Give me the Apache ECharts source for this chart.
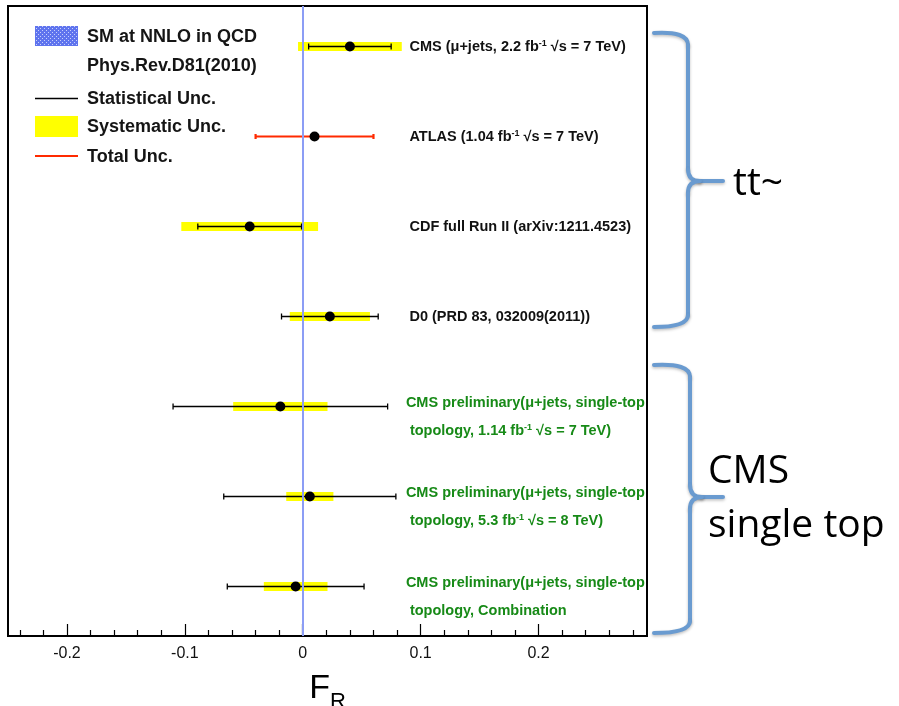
<!DOCTYPE html>
<html><head><meta charset="utf-8">
<script src="https://cdn.jsdelivr.net/npm/echarts@6/dist/echarts.min.js"></script>
<style>html,body{margin:0;padding:0;background:#fff}#c{width:899px;height:706px}</style>
</head><body><div id="c"></div>
<script>
// ---- data ----
const measurements = ['CMS', 'ATLAS', 'CDF', 'D0', 'CMS prelim 7 TeV', 'CMS prelim 8 TeV', 'CMS prelim comb.'];
const groups = ['tt', 'tt', 'tt', 'tt', 'single', 'single', 'single'];
const labelLines = [
  ['CMS (\u03bc+jets, 2.2 fb{sup|-1} \u221As = 7 TeV)'],
  ['ATLAS (1.04 fb{sup|-1} \u221As = 7 TeV)'],
  ['CDF full Run II (arXiv:1211.4523)'],
  ['D0 (PRD 83, 032009(2011))'],
  ['CMS preliminary(\u03bc+jets, single-top', ' topology, 1.14 fb{sup|-1} \u221As = 7 TeV)'],
  ['CMS preliminary(\u03bc+jets, single-top', ' topology, 5.3 fb{sup|-1} \u221As = 8 TeV)'],
  ['CMS preliminary(\u03bc+jets, single-top', ' topology, Combination']
];
const centralValues = [0.040, 0.010, -0.045, 0.023, -0.019, 0.006, -0.006];
const statUnc  = [0.035, null, 0.044, 0.041, 0.091, 0.073, 0.058];
const systUnc  = [0.044, null, 0.058, 0.034, 0.040, 0.020, 0.027];
const totalUnc = [null, 0.050, null, null, null, null, null];
const smPrediction = 0;
const majorTicks = [-0.2, -0.1, 0, 0.1, 0.2];
const minorTicks = [-0.24, -0.22, -0.18, -0.16, -0.14, -0.12, -0.08, -0.06, -0.04, -0.02,
                    0.02, 0.04, 0.06, 0.08, 0.12, 0.14, 0.16, 0.18, 0.22, 0.24, 0.26, 0.28];
const legendTexts = ['SM at NNLO in QCD', 'Phys.Rev.D81(2010)', 'Statistical Unc.', 'Systematic Unc.', 'Total Unc.'];
const groupNames = ['tt~', 'CMS', 'single top'];

// ---- chart ----
const chart = echarts.init(document.getElementById('c'), null, {renderer: 'canvas'});
const FONT = '"Liberation Sans", Arial, Helvetica, sans-serif';
const GREEN = '#178a17';
const BRACKET = '#6a9bd0';

// dotted blue pattern for the SM legend swatch
const pat = document.createElement('canvas');
pat.width = 4; pat.height = 4;
(function () {
  const g = pat.getContext('2d');
  g.fillStyle = '#5f74ee'; g.fillRect(0, 0, 4, 4);
  g.fillStyle = '#c9d1fb'; g.fillRect(0, 0, 1, 1); g.fillRect(2, 2, 1, 1);
})();

const seriesData = centralValues.map((v, i) => [v, i]);

function renderItem(params, api) {
  const i = params.dataIndex;
  const c = api.value(0), yv = api.value(1);
  const p = api.coord([c, yv]);
  const ch = [];
  if (systUnc[i] != null) {
    const a = api.coord([c - systUnc[i], yv]), b = api.coord([c + systUnc[i], yv]);
    ch.push({type: 'rect', shape: {x: a[0], y: p[1] - 4.5, width: b[0] - a[0], height: 9}, style: {fill: '#ffff00'}});
  }
  if (statUnc[i] != null) {
    const a = api.coord([c - statUnc[i], yv]), b = api.coord([c + statUnc[i], yv]);
    const st = {stroke: '#000', lineWidth: 1.3};
    ch.push({type: 'line', shape: {x1: a[0], y1: p[1], x2: b[0], y2: p[1]}, style: st});
    ch.push({type: 'line', shape: {x1: a[0], y1: p[1] - 3, x2: a[0], y2: p[1] + 3}, style: st});
    ch.push({type: 'line', shape: {x1: b[0], y1: p[1] - 3, x2: b[0], y2: p[1] + 3}, style: st});
  }
  if (totalUnc[i] != null) {
    const a = api.coord([c - totalUnc[i], yv]), b = api.coord([c + totalUnc[i], yv]);
    const st = {stroke: '#ff2a00', lineWidth: 2.2};
    ch.push({type: 'line', shape: {x1: a[0], y1: p[1], x2: b[0], y2: p[1]}, style: st});
    ch.push({type: 'line', shape: {x1: a[0], y1: p[1] - 2.5, x2: a[0], y2: p[1] + 2.5}, style: st});
    ch.push({type: 'line', shape: {x1: b[0], y1: p[1] - 2.5, x2: b[0], y2: p[1] + 2.5}, style: st});
  }
  ch.push({type: 'circle', shape: {cx: p[0], cy: p[1], r: 5}, style: {fill: '#000'}});
  const single = groups[i] === 'single';
  const color = single ? GREEN : '#111';
  const lx = api.coord([single ? 0.0875 : 0.0905, yv])[0];
  const lines = labelLines[i];
  lines.forEach((t, k) => {
    const dy = lines.length === 1 ? 0 : (k === 0 ? -4 : 24);
    ch.push({
      type: 'text', x: lx, y: p[1] + dy,
      style: {
        text: t, fill: color, fontSize: 14.5, fontWeight: 'bold', fontFamily: FONT,
        align: 'left', verticalAlign: 'middle',
        rich: {sup: {fontSize: 9, fontWeight: 'bold', fontFamily: FONT, fill: color, verticalAlign: 'top'}}
      }
    });
  });
  return {type: 'group', children: ch};
}

const legendGraphics = [
  {type: 'rect', shape: {x: 35, y: 26, width: 43, height: 20}, style: {fill: {image: pat, repeat: 'repeat'}}},
  {type: 'line', shape: {x1: 35, y1: 98.5, x2: 78, y2: 98.5}, style: {stroke: '#000', lineWidth: 1.3}},
  {type: 'rect', shape: {x: 35, y: 116, width: 43, height: 21}, style: {fill: '#ffff00'}},
  {type: 'line', shape: {x1: 35, y1: 156, x2: 78, y2: 156}, style: {stroke: '#ff2a00', lineWidth: 2.2}}
];
const legendY = [37, 66, 99, 127, 157];
legendTexts.forEach((t, k) => {
  legendGraphics.push({type: 'text', x: 87, y: legendY[k],
    style: {text: t, fontSize: 18, fontWeight: 'bold', fontFamily: FONT, fill: '#151515', verticalAlign: 'middle'}});
});

const bracketStyle = {stroke: BRACKET, lineWidth: 4, fill: null, lineCap: 'round',
  shadowBlur: 3, shadowColor: 'rgba(0,0,0,0.25)', shadowOffsetY: 1.5};
// brace made of straight pieces and quadratic curves
function brace(xl, xv, xt, yTop, yTip, yBot) {
  const r = 12;
  const curve = (x1, y1, cx, cy, x2, y2) => ({type: 'bezierCurve', shape: {x1, y1, cpx1: cx, cpy1: cy, x2, y2}, style: bracketStyle});
  const seg = (x1, y1, x2, y2) => ({type: 'line', shape: {x1, y1, x2, y2}, style: bracketStyle});
  return [
    curve(xl, yTop, xv, yTop - 2, xv, yTop + r),
    seg(xv, yTop + r, xv, yTip - r),
    curve(xv, yTip - r, xv, yTip, xv + r, yTip),
    seg(xv + r, yTip, xt, yTip),
    curve(xv + r, yTip, xv, yTip, xv, yTip + r),
    seg(xv, yTip + r, xv, yBot - r),
    curve(xv, yBot - r, xv, yBot, xl, yBot)
  ];
}
const bracketGraphics = [].concat(
  brace(654, 688, 723, 33, 181, 327),
  brace(654, 690, 723, 365, 497, 633),
  [
    {type: 'text', x: 733, y: 184, style: {text: groupNames[0], fontSize: 39, fontFamily: '"Open Sans", sans-serif', fill: '#000', verticalAlign: 'middle'}},
    {type: 'text', x: 708, y: 472, style: {text: groupNames[1], fontSize: 39, fontFamily: '"Open Sans", sans-serif', fill: '#000', verticalAlign: 'middle'}},
    {type: 'text', x: 708, y: 526, style: {text: groupNames[2], fontSize: 39, fontFamily: '"Open Sans", sans-serif', fill: '#000', verticalAlign: 'middle'}}
  ]
);

const option = {
  animation: false,
  backgroundColor: '#fff',
  grid: {left: 8, right: 252, top: 6, bottom: 70, containLabel: false, outerBoundsMode: 'none',
    show: true, borderColor: '#000', borderWidth: 2, backgroundColor: 'transparent'},
  xAxis: [{
    type: 'value', min: -0.25, max: 0.292, position: 'bottom',
    axisLine: {show: true, onZero: false, lineStyle: {color: '#000', width: 2}},
    axisTick: {show: true, inside: true, length: 12, customValues: majorTicks, lineStyle: {color: '#000', width: 1.2}},
    axisLabel: {show: true, customValues: majorTicks, color: '#111', fontSize: 16, fontFamily: FONT, margin: 10},
    splitLine: {show: false},
    name: '{f|F}{r|R}', nameLocation: 'middle', nameGap: 29,
    nameTextStyle: {rich: {
      f: {fontSize: 34, fontFamily: FONT, color: '#000', lineHeight: 48},
      r: {fontSize: 22, fontFamily: FONT, color: '#000', lineHeight: 48, verticalAlign: 'bottom'}
    }}
  }, {
    type: 'value', min: -0.25, max: 0.292, position: 'bottom', offset: 0,
    axisLine: {show: false, onZero: false},
    axisTick: {show: true, inside: true, length: 6, customValues: minorTicks, lineStyle: {color: '#000', width: 1.2}},
    axisLabel: {show: false},
    splitLine: {show: false}
  }],
  yAxis: {type: 'value', inverse: true, min: -0.45, max: 6.55, show: false},
  series: [{
    type: 'custom', name: 'F_R', xAxisIndex: 0, renderItem: renderItem,
    data: seriesData, encode: {x: 0, y: 1}, z: 2, clip: false
  }, {
    type: 'line', data: [], xAxisIndex: 0, z: 3,
    markLine: {silent: true, symbol: ['none', 'none'], label: {show: false},
      lineStyle: {color: '#8c9df5', width: 2, type: 'solid'},
      data: [{xAxis: smPrediction}]}
  }],
  graphic: legendGraphics.concat(bracketGraphics)
};
chart.setOption(option);
</script></body></html>
